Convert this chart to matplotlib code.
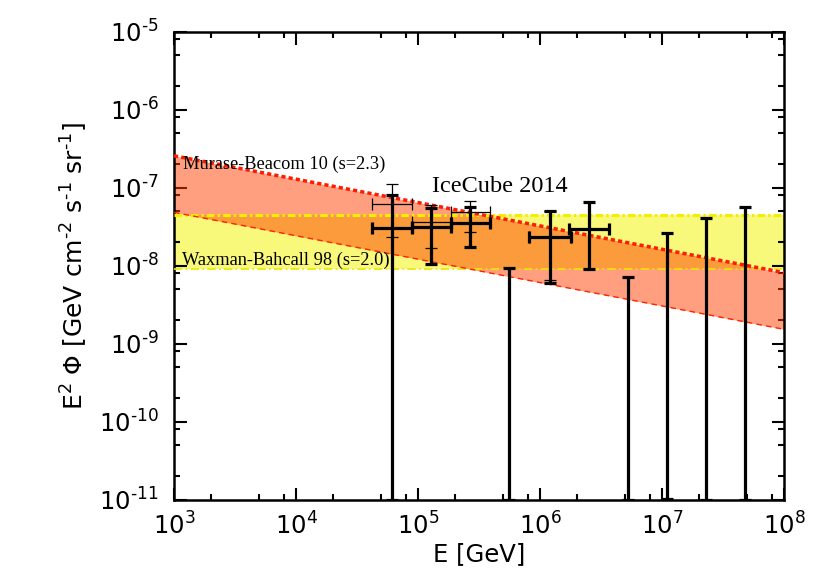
import matplotlib
matplotlib.use('Agg')
import matplotlib.pyplot as plt
from matplotlib.ticker import FixedLocator, NullFormatter, FuncFormatter
import numpy as np

# ---------------- data ----------------
band_E = [1e3, 1e8]
mb_upper = [2.55e-7, 8.1e-9]      # Murase-Beacom 10 (s=2.3)
mb_lower = [4.8e-8, 1.52e-9]
wb_upper = [4.5e-8, 4.5e-8]       # Waxman-Bahcall 98 (s=2.0)
wb_lower = [9.0e-9, 9.0e-9]

# IceCube 2014 (thick crosses)
ic_E = [6.15e4, 1.28e5, 2.67e5, 1.21e6, 2.54e6]
ic_Elo = [4.17e4, 8.87e4, 1.85e5, 8.17e5, 1.74e6]
ic_Ehi = [8.85e4, 1.85e5, 3.9e5, 1.79e6, 3.7e6]
ic_F = [3.0e-8, 3.1e-8, 3.47e-8, 2.34e-8, 2.91e-8]
ic_Fhi = [7.9e-8, 5.5e-8, 5.7e-8, 5.05e-8, 6.46e-8]
ic_Flo = [1e-11, 1.03e-8, 1.74e-8, 5.9e-9, 9.0e-9]

# earlier analysis (thin crosses)
old_E = [6.15e4, 1.28e5, 2.67e5, 1.21e6]
old_Elo = [4.17e4, 8.87e4, 1.85e5, 8.17e5]
old_Ehi = [8.85e4, 1.85e5, 3.9e5, 1.79e6]
old_F = [6.2e-8, 3.6e-8, 4.9e-8, 2.34e-8]
old_Fhi = [1.12e-7, 6.0e-8, 6.7e-8, 5.05e-8]
old_Flo = [2.3e-8, 1.66e-8, 2.67e-8, 6.5e-9]

# upper limits
ul_E = [5.6e5, 5.25e6, 1.1e7, 2.3e7, 4.8e7]
ul_F = [9.2e-9, 7.2e-9, 2.64e-8, 4.1e-8, 5.7e-8]
ul_floor = [1e-11, 1e-11, 1e-11, 1e-11, 1e-11]

# tick decades
x_decades = [3, 4, 5, 6, 7, 8]
y_decades = [-11, -10, -9, -8, -7, -6, -5]
minor_subs = [2, 5, 8]

xlim = (1e3, 1e8)
ylim = (1e-11, 1e-5)

# ---------------- figure ----------------
fig = plt.figure(figsize=(8.3, 5.81), dpi=100)
ax = fig.add_axes([174/830, 1-499.5/581, 610/830, 468/581])
ax.set_xscale('log')
ax.set_yscale('log')
ax.set_xlim(*xlim)
ax.set_ylim(*ylim)

ax.fill_between(band_E, wb_lower, wb_upper, color='#f8f87a', lw=0, zorder=1)
ax.fill_between(band_E, mb_lower, mb_upper, color=(1.0, 0.25, 0.0), alpha=0.5, lw=0, zorder=2)
ax.plot(band_E, wb_upper, color='#f0f000', lw=2.2, ls=(0, (2.5, 1, 0.8, 1)), zorder=3)
ax.plot(band_E, wb_lower, color='#e8e800', lw=1.2, ls=(0, (5, 2, 1, 2)), zorder=3)
ax.plot(band_E, mb_upper, color='#ff1a00', lw=2.5, ls=(0, (1.2, 0.9)), zorder=3)
ax.plot(band_E, mb_lower, color='#ff2200', lw=1.0, ls=(0, (4, 3)), zorder=3)

# thin crosses
oE = np.array(old_E); oF = np.array(old_F)
ax.errorbar(oE, oF,
            xerr=[oE - np.array(old_Elo), np.array(old_Ehi) - oE],
            yerr=[oF - np.array(old_Flo), np.array(old_Fhi) - oF],
            fmt='none', ecolor='black', elinewidth=0.9, capsize=4, capthick=0.9, zorder=4)

# thick crosses
iE = np.array(ic_E); iF = np.array(ic_F)
ax.errorbar(iE, iF,
            xerr=[iE - np.array(ic_Elo), np.array(ic_Ehi) - iE],
            yerr=[iF - np.array(ic_Flo), np.array(ic_Fhi) - iF],
            fmt='none', ecolor='black', elinewidth=2.3, capsize=4, capthick=2.3, zorder=5)

# upper limits
uE = np.array(ul_E); uF = np.array(ul_F)
ax.errorbar(uE, uF, yerr=[uF - np.array(ul_floor), np.zeros_like(uF)],
            fmt='none', ecolor='black', elinewidth=2.3, capsize=4, capthick=2.3, zorder=5)

serif = ['Liberation Serif', 'DejaVu Serif']
ax.text(0.0143, 0.717, 'Murase-Beacom 10 (s=2.3)', transform=ax.transAxes,
        family=serif, fontsize=13.2, va='center', ha='left', zorder=6)
ax.text(0.013, 0.512, 'Waxman-Bahcall 98 (s=2.0)', transform=ax.transAxes,
        family=serif, fontsize=13.2, va='center', ha='left', zorder=6)
ax.text(0.423, 0.668, 'IceCube 2014', transform=ax.transAxes,
        family=serif, fontsize=17.5, va='center', ha='left', zorder=6)

# ticks
def fmt(v, pos):
    e = int(round(np.log10(v)))
    if e < 0:
        return r'$10^{\text{-}%d}$' % (-e)
    return r'$10^{%d}$' % e

def minors(decades):
    return [s * 10.0 ** d for d in decades[:-1] for s in minor_subs]

ax.xaxis.set_major_locator(FixedLocator([10.0 ** d for d in x_decades]))
ax.yaxis.set_major_locator(FixedLocator([10.0 ** d for d in y_decades]))
ax.xaxis.set_minor_locator(FixedLocator(minors(x_decades)))
ax.yaxis.set_minor_locator(FixedLocator(minors(y_decades)))
for axis in (ax.xaxis, ax.yaxis):
    axis.set_minor_formatter(NullFormatter())
    axis.set_major_formatter(FuncFormatter(fmt))

ax.tick_params(which='both', direction='in', top=True, right=True, width=1.5, colors='black')
ax.tick_params(which='major', length=9, labelsize=17.5)
ax.tick_params(which='minor', length=4)
ax.tick_params(axis='x', which='major', pad=9)
ax.tick_params(axis='y', which='major', pad=11)
for s in ax.spines.values():
    s.set_linewidth(1.8)

ax.set_xlabel('E [GeV]', fontsize=17.5)
ax.set_ylabel(r'E$^2$ $\Phi$ [GeV cm$^{\text{-}2}$ s$^{\text{-}1}$ sr$^{\text{-}1}$]', fontsize=18)
ax.xaxis.set_label_coords(0.5, -0.092)
ax.yaxis.set_label_coords(-0.137, 0.5)

fig.savefig('out.png', dpi=100)
